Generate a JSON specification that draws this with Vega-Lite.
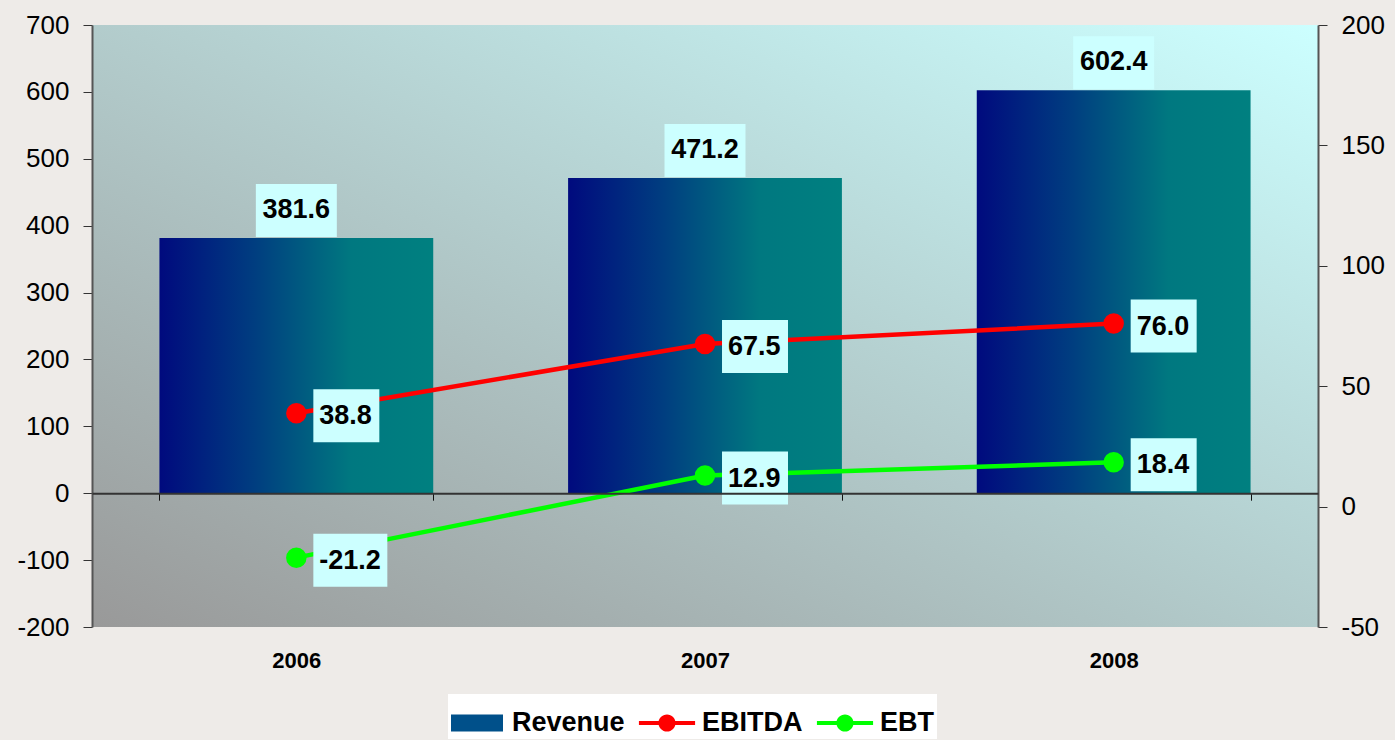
{
  "$schema": "https://vega.github.io/schema/vega-lite/v6.json",
  "width": 1226,
  "height": 602,
  "autosize": {"type": "none"},
  "padding": {"left": 92, "top": 25, "right": 77, "bottom": 113},
  "background": "#eeebe8",
  "view": {
    "fill": {"gradient": "linear", "x1": 0, "y1": 1, "x2": 1, "y2": 0,
      "stops": [{"offset": 0, "color": "#999999"}, {"offset": 1, "color": "#ccffff"}]},
    "stroke": null
  },
  "config": {
    "font": "Liberation Sans",
    "axis": {"labelFont": "Liberation Sans", "labelColor": "#000000", "grid": false, "title": null}
  },
  "data": {
    "values": [
      {"year": "2006", "series": "Revenue", "value": 381.6},
      {"year": "2007", "series": "Revenue", "value": 471.2},
      {"year": "2008", "series": "Revenue", "value": 602.4},
      {"year": "2006", "series": "EBITDA", "value": 38.8},
      {"year": "2007", "series": "EBITDA", "value": 67.5},
      {"year": "2008", "series": "EBITDA", "value": 76.0},
      {"year": "2006", "series": "EBT", "value": -21.2},
      {"year": "2007", "series": "EBT", "value": 12.9},
      {"year": "2008", "series": "EBT", "value": 18.4}
    ]
  },
  "transform": [
    {"calculate": "replace(format(datum.value, '.1f'), '\u2212', '-')", "as": "lbl"},
    {"calculate": "length(datum.lbl) > 4 ? 'wide' : 'narrow'", "as": "w"}
  ],
  "encoding": {
    "x": {
      "field": "year", "type": "ordinal",
      "scale": {"paddingInner": 0.33, "paddingOuter": 0.165},
      "axis": {
        "title": null, "offset": -133.8, "labelAngle": 0,
        "domainColor": "#333333", "domainWidth": 2,
        "tickBand": "extent", "tickColor": "#111111", "tickSize": 7, "tickWidth": 1,
        "labelFontSize": 22, "labelFontWeight": "bold", "labelPadding": 150,
        "zindex": 1
      }
    }
  },
  "layer": [
    {
      "transform": [{"filter": "datum.series === 'Revenue'"}],
      "encoding": {
        "y": {
          "field": "value", "type": "quantitative",
          "scale": {"domain": [-200, 700], "nice": false, "zero": false},
          "axis": {
            "orient": "left", "values": [-200, -100, 0, 100, 200, 300, 400, 500, 600, 700],
            "labelExpr": "'' + datum.value",
            "tickSize": 9, "tickColor": "#333333", "domainColor": "#555555", "domainWidth": 2,
            "labelFontSize": 26, "labelPadding": 14
          }
        }
      },
      "layer": [
        {
          "mark": {
            "type": "bar",
            "color": {"gradient": "linear", "x1": 0, "y1": 0, "x2": 1, "y2": 0,
              "stops": [
                {"offset": 0, "color": "#000a7e"},
                {"offset": 0.35, "color": "#003e80"},
                {"offset": 0.7, "color": "#007880"},
                {"offset": 1, "color": "#008080"}
              ]}
          }
        },
        {
          "mark": {"type": "point", "filled": true, "opacity": 1, "color": "#ccffff", "size": 2809,
            "shape": "M-1.528,-2.038H1.528V-0.038H-1.528Z"}
        },
        {
          "mark": {"type": "text", "align": "center", "baseline": "middle", "dy": -28,
            "fontSize": 27, "fontWeight": "bold", "color": "#000000"},
          "encoding": {"text": {"field": "lbl"}}
        }
      ]
    },
    {
      "transform": [{"filter": "datum.series !== 'Revenue'"}],
      "encoding": {
        "y": {
          "field": "value", "type": "quantitative",
          "scale": {"domain": [-50, 200], "nice": false, "zero": false},
          "axis": {
            "orient": "right", "values": [-50, 0, 50, 100, 150, 200],
            "labelExpr": "'' + datum.value",
            "tickSize": 9, "tickColor": "#333333", "domainColor": "#555555", "domainWidth": 2,
            "labelFontSize": 26, "labelPadding": 14
          }
        },
        "color": {
          "field": "series", "type": "nominal",
          "scale": {"domain": ["Revenue", "EBITDA", "EBT"], "range": ["#00508a", "#ff0000", "#00ff00"]},
          "legend": {
            "title": null, "orient": "none", "legendX": 356, "legendY": 669, "direction": "horizontal",
            "fillColor": "#ffffff", "padding": 3,
            "labelFont": "Liberation Sans", "labelFontSize": 27, "labelFontWeight": "bold", "labelColor": "#000000",
            "symbolSize": 2704, "labelOffset": 9, "columnPadding": 13,
            "encode": {
              "symbols": {
                "update": {
                  "shape": [
                    {"test": "datum.value === 'Revenue'", "value": "M-1,-0.33H1V0.33H-1Z"},
                    {"value": "M-1.08,-0.08H-0.3V0.08H-1.08Z M0.3,-0.08H1.08V0.08H0.3Z M0.33,0A0.33,0.33 0 1,1 -0.33,0A0.33,0.33 0 1,1 0.33,0Z"}
                  ],
                  "fill": {"scale": "color", "field": "value"},
                  "stroke": {"value": "transparent"},
                  "strokeWidth": {"value": 0},
                  "opacity": {"value": 1}
                }
              }
            }
          }
        }
      },
      "layer": [
        {"mark": {"type": "line", "strokeWidth": 4.5}},
        {"mark": {"type": "point", "filled": true, "size": 420, "opacity": 1}},
        {
          "mark": {"type": "point", "filled": true, "opacity": 1, "size": 2809},
          "encoding": {
            "color": {"value": "#ccffff"},
            "shape": {
              "field": "w", "type": "nominal",
              "scale": {"domain": ["narrow", "wide"],
                "range": ["M0.642,-0.906H3.132V1.094H0.642Z", "M0.642,-0.906H3.434V1.094H0.642Z"]},
              "legend": null
            }
          }
        },
        {
          "mark": {"type": "text", "align": "left", "baseline": "middle", "dx": 23, "dy": 3,
            "fontSize": 27, "fontWeight": "bold"},
          "encoding": {"text": {"field": "lbl"}, "color": {"value": "#000000"}}
        }
      ]
    }
  ],
  "resolve": {"scale": {"y": "independent"}}
}
